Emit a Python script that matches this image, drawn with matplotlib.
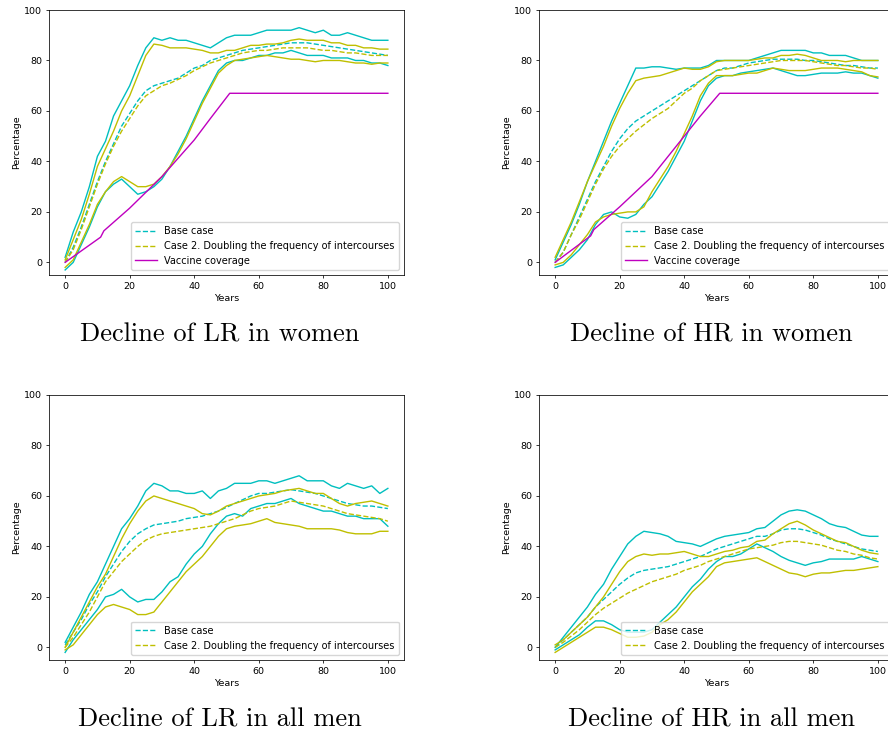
import numpy as np
import matplotlib
matplotlib.use("Agg")
import matplotlib.pyplot as plt

years = np.arange(0, 100.01, 2.5)

# ---------- Decline of LR in women ----------
lrw_base_up = [2, 12, 20, 30, 42, 48, 58, 64, 70, 78, 85, 89, 88, 89, 88, 88, 87, 86, 85, 87, 89, 90, 90, 90, 91, 92, 92, 92, 92, 93, 92, 91, 92, 90, 90, 91, 90, 89, 88, 88, 88]
lrw_base_mean = [0, 6, 14, 23, 32, 40, 47, 54, 59, 64, 68, 70, 71, 72, 73, 75, 77, 78, 80, 81, 82, 83, 84, 84.5, 85, 85.5, 86, 86.5, 87, 87, 87, 86.5, 86, 85.5, 85, 84.5, 84, 83.5, 83, 82.5, 82]
lrw_base_low = [-3, 0, 7, 14, 22, 28, 31, 33, 30, 27, 28, 30, 33, 38, 44, 50, 57, 64, 70, 76, 79, 80, 80, 81, 82, 82, 83, 83, 84, 83, 82, 82, 82, 81, 81, 81, 80, 80, 79, 79, 78]
lrw_c2_up = [1, 9, 17, 27, 38, 45, 52, 60, 66, 74, 82, 86.5, 86, 85, 85, 85, 84.5, 84, 83, 83, 84, 84, 85, 86, 86, 86.5, 86.5, 87, 88, 88.5, 88, 88, 88, 87, 87, 86, 86, 85, 85, 84.5, 84.5]
lrw_c2_mean = [0, 5, 13, 22, 31, 39, 46, 52, 57, 62, 66, 68, 70, 71, 72.5, 74, 76, 77.5, 79, 80, 81, 82, 83, 83.5, 84, 84, 84.5, 85, 85, 85, 85, 84.5, 84, 84, 83.5, 83, 83, 82.5, 82, 82, 82]
lrw_c2_low = [-2, 1, 8, 15, 23, 28, 32, 34, 32, 30, 30, 31, 34, 38, 43, 49, 56, 63, 69, 75, 78, 80, 80.5, 81, 81.5, 82, 81.5, 81, 80.5, 80.5, 80, 79.5, 80, 80, 80, 79.5, 79, 79, 78.5, 79, 79]

# ---------- Decline of HR in women ----------
hrw_base_up = [1, 8, 15, 23, 32, 40, 48, 56, 63, 70, 77, 77, 77.5, 77.5, 77, 76.5, 77, 77, 77, 78, 80, 80, 80, 80, 80, 81, 82, 83, 84, 84, 84, 84, 83, 83, 82, 82, 82, 81, 80, 80, 80]
hrw_base_mean = [0, 4, 11, 18, 25, 32, 38, 44, 49, 53, 56, 58, 60, 62, 64, 66, 68, 70, 72, 74, 76, 77, 77, 78, 79, 79.5, 80, 80.5, 80.5, 80.5, 80.5, 80, 80, 79.5, 79, 78.5, 78, 78, 77.5, 77, 77]
hrw_base_low = [-2, -1, 2, 5, 9, 15, 19, 20, 18, 17.5, 19, 23, 26, 31, 36, 42, 48, 56, 64, 70, 73, 74, 74, 75, 75.5, 76, 76.5, 77, 76, 75, 74, 74, 74.5, 75, 75, 75, 75.5, 75, 75, 74, 73]
hrw_c2_up = [2, 9, 16, 24, 32, 39, 46, 54, 61, 67, 72, 73, 73.5, 74, 75, 76, 77, 76.5, 76.5, 77.5, 79.5, 80, 80, 80, 80, 80.5, 81, 81, 82, 82, 82.5, 82, 81, 80, 80, 80, 79.5, 80, 80, 80, 80]
hrw_c2_mean = [0, 4, 11, 17, 24, 31, 37, 42, 46, 49, 52, 54.5, 57, 59, 61, 64, 67, 69, 72, 74, 76, 76.5, 77, 77.5, 78, 78.5, 79, 79.5, 80, 80, 80, 80, 79.5, 79, 78.5, 78, 78, 77.5, 77, 77, 76.5]
hrw_c2_low = [-1, 0, 3, 7, 11, 16, 18, 19, 19.5, 20, 20, 22, 28, 33, 38, 44, 51, 58, 66, 71, 74, 74, 74, 74.5, 75, 75, 76, 77, 76.5, 76, 76, 76, 76.5, 77, 77, 77, 76.5, 76, 75.5, 74, 73.5]

# ---------- Vaccine coverage ----------
vacc_years = [0, 11, 12, 20, 30, 40, 45, 51, 100]
vacc_lr = [0, 10, 12.5, 21.5, 34, 48.5, 57, 67, 67]
vacc_hr = [0, 10.5, 13, 22, 34, 50, 58, 67, 67]

# ---------- Decline of LR in all men ----------
lrm_base_up = [2, 8, 14, 21, 26, 33, 40, 47, 51, 56, 62, 65, 64, 62, 62, 61, 61, 62, 59, 62, 63, 65, 65, 65, 66, 66, 65, 66, 67, 68, 66, 66, 66, 64, 63, 65, 64, 63, 64, 61, 63]
lrm_base_mean = [1, 6, 11, 17, 22, 28, 33, 38, 42, 45, 47, 48.5, 49, 49.5, 50, 51, 51.5, 52, 53, 54, 55.5, 57, 58.5, 60, 61, 61, 61.5, 62, 62.5, 62, 61.5, 61, 60, 59, 58, 57, 56.5, 56, 56, 55.5, 55]
lrm_base_low = [-2, 3, 7, 11, 15, 20, 21, 23, 20, 18, 19, 19, 22, 26, 28, 33, 37, 40, 45, 49, 52, 53, 52, 55, 56, 57, 57, 58, 59, 57, 56, 55, 54, 54, 53, 52, 52, 51, 51, 51, 48]
lrm_c2_up = [0, 6, 12, 18, 24, 29, 36, 43, 49, 54, 58, 60, 59, 58, 57, 56, 55, 53, 52.5, 54, 56, 57, 58, 59, 60, 60.5, 61, 62, 62.5, 63, 62, 61, 61, 59, 57, 56, 57, 57.5, 58, 57, 56]
lrm_c2_mean = [0, 4, 9, 14, 20, 26, 30, 34, 37, 40, 42.5, 44, 45, 45.5, 46, 46.5, 47, 47.5, 48, 49, 50, 51, 52.5, 54, 55, 55.5, 56, 57, 58, 57.5, 57, 56.5, 56, 55, 54, 53, 52.5, 52, 51.5, 51, 50]
lrm_c2_low = [-1, 1, 5, 9, 13, 16, 17, 16, 15, 13, 13, 14, 18, 22, 26, 30, 33, 36, 40, 44, 47, 48, 48.5, 49, 50, 51, 49.5, 49, 48.5, 48, 47, 47, 47, 47, 46.5, 45.5, 45, 45, 45, 46, 46]

# ---------- Decline of HR in all men ----------
hrm_base_up = [0, 4, 8, 12, 16, 21, 25, 31, 36, 41, 44, 46, 45.5, 45, 44, 42, 41.5, 41, 40, 41.5, 43, 44, 44.5, 45, 45.5, 47, 47.5, 50, 52.5, 54, 54.5, 54, 52.5, 51, 49, 48, 47.5, 46, 44.5, 44, 44]
hrm_base_mean = [0, 3, 6, 9, 12, 16, 19, 22, 25, 27.5, 29.5, 30.5, 31, 31.5, 32, 33, 34, 35, 36, 37.5, 39, 40, 41, 42, 43, 44, 44, 45, 46.5, 47, 47, 46.5, 45.5, 44.5, 43, 42, 41, 40, 39, 38.5, 38]
hrm_base_low = [-1, 1, 3, 5, 8, 10.5, 10.5, 9, 7, 6, 6, 6, 7, 10, 13, 16, 20, 24, 27, 31, 34, 36, 36, 37, 39, 41, 39.5, 38, 36, 34.5, 33.5, 32.5, 33.5, 34, 35, 35, 35, 35, 36, 35, 34]
hrm_c2_up = [1, 3, 6, 9, 12, 16, 20, 25, 30, 34, 36, 37, 36.5, 37, 37, 37.5, 38, 37, 36, 36, 37, 38, 38.5, 39.5, 40, 42, 42.5, 45, 47, 49, 50, 48.5, 46.5, 45, 43.5, 42, 41.5, 40, 38.5, 37.5, 37]
hrm_c2_mean = [0, 2, 4.5, 7, 10, 13, 15.5, 17.5, 19.5, 21.5, 23, 24.5, 26, 27, 28, 29, 30.5, 31.5, 32.5, 34, 35, 36, 37, 38, 39, 39.5, 40, 40.5, 41.5, 42, 42, 41.5, 41, 40.5, 39.5, 38.5, 38, 37, 36.5, 35.5, 35]
hrm_c2_low = [-2, 0, 2, 4, 6, 8, 8, 7, 5.5, 4, 4, 4.5, 6, 9, 11, 14, 18, 22, 25, 28, 32, 33.5, 34, 34.5, 35, 35.5, 34, 32.5, 31, 29.5, 29, 28, 29, 29.5, 29.5, 30, 30.5, 30.5, 31, 31.5, 32]

titles = ["Decline of LR in women", "Decline of HR in women",
          "Decline of LR in all men", "Decline of HR in all men"]
label_base = "Base case"
label_c2 = "Case 2. Doubling the frequency of intercourses"
label_vacc = "Vaccine coverage"

panels = [
    (lrw_base_up, lrw_base_mean, lrw_base_low, lrw_c2_up, lrw_c2_mean, lrw_c2_low, vacc_lr),
    (hrw_base_up, hrw_base_mean, hrw_base_low, hrw_c2_up, hrw_c2_mean, hrw_c2_low, vacc_hr),
    (lrm_base_up, lrm_base_mean, lrm_base_low, lrm_c2_up, lrm_c2_mean, lrm_c2_low, None),
    (hrm_base_up, hrm_base_mean, hrm_base_low, hrm_c2_up, hrm_c2_mean, hrm_c2_low, None),
]

W, H = 888, 738
fig = plt.figure(figsize=(W / 100, H / 100), dpi=100)

fs = 6.8
lw = 1.0
cyan = (0, 0.75, 0.75)
yel = (0.75, 0.75, 0)
mag = (0.75, 0, 0.75)

# axes boxes in pixels: (left, top, width, height)
boxes = [(49, 10, 355, 265), (539, 10, 355, 265),
         (49, 395, 355, 265), (539, 395, 355, 265)]
cap_pos = [(220, 335), (711, 335), (220, 720), (711, 720)]

for i, (bu, bm, bl, cu, cm, cl, vac) in enumerate(panels):
    l, t, w, h = boxes[i]
    ax = fig.add_axes([l / W, 1 - (t + h) / H, w / W, h / H])
    ax.plot(years, bu, color=cyan, lw=lw)
    ax.plot(years, bm, color=cyan, lw=lw, ls="--", dashes=(3.7, 1.6), label=label_base)
    ax.plot(years, bl, color=cyan, lw=lw)
    ax.plot(years, cu, color=yel, lw=lw)
    ax.plot(years, cm, color=yel, lw=lw, ls="--", dashes=(3.7, 1.6), label=label_c2)
    ax.plot(years, cl, color=yel, lw=lw)
    if vac is not None:
        ax.plot(vacc_years, vac, color=mag, lw=lw, label=label_vacc)
    ax.set_xlim(-5, 105)
    ax.set_ylim(-5, 100)
    ax.set_xticks([0, 20, 40, 60, 80, 100])
    ax.set_yticks([0, 20, 40, 60, 80, 100])
    ax.tick_params(labelsize=fs, length=2.4, width=0.55, pad=2.4)
    for s in ax.spines.values():
        s.set_linewidth(0.55)
    ax.set_xlabel("Years", fontsize=fs, labelpad=2.5)
    ax.set_ylabel("Percentage", fontsize=fs, labelpad=2.5)
    ax.legend(loc="lower right", fontsize=7.0, handlelength=2.2,
              borderpad=0.45, labelspacing=0.5, framealpha=0.8)
    cx, cy = cap_pos[i]
    fig.text(cx / W, 1 - cy / H, titles[i], ha="center", va="center",
             fontsize=19, family="cmr10")

fig.savefig("out.png", dpi=100)
